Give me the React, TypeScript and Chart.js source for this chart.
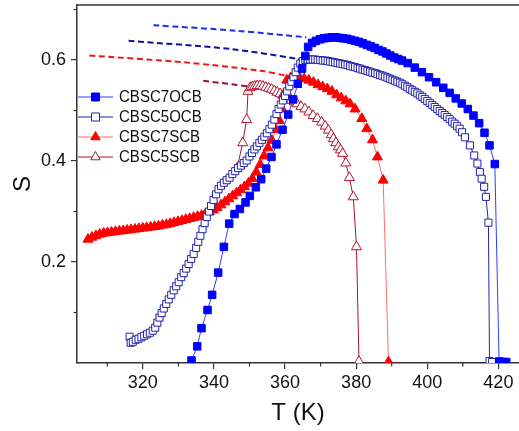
import React, { useEffect, useRef } from 'react';
import { Chart, registerables } from 'chart.js';

Chart.register(...registerables);

const FONT = "'Liberation Sans', Arial, Helvetica, sans-serif";

const seriesNames = ['CBSC7OCB', 'CBSC5OCB', 'CBSC7SCB', 'CBSC5SCB'];
const xTickLabels = [320, 340, 360, 380, 400, 420];
const yTickLabels = [0.2, 0.4, 0.6];

// CBSC7OCB (filled squares)
const t7OCB = [333.7, 335.3, 336.5, 338.2, 339.5, 341.2, 342.8, 344.3, 345.8, 347.3,
  348.9, 350.1, 351.8, 353.3, 354.7, 356.2, 357.6, 359.3, 360.9, 362.3,
  363.6, 364.8, 365.7, 366.5, 367.6, 368.7, 369.8, 370.9, 372.0, 373.1,
  374.2, 375.3, 376.4, 377.5, 378.6, 379.7, 380.8, 381.9, 383.0, 384.1,
  385.2, 386.3, 387.4, 388.5, 389.6, 390.7, 391.8, 392.9, 394.5, 396.5,
  398.5, 400.5, 402.5, 404.5, 406.3, 408.0, 409.7, 411.4, 413.0, 414.6,
  416.1, 417.5, 419.0, 420.2, 421.2, 422.2];
const s7OCB = [0.005, 0.033, 0.069, 0.105, 0.135, 0.179, 0.230, 0.276, 0.295, 0.305,
  0.318, 0.331, 0.348, 0.364, 0.385, 0.408, 0.433, 0.462, 0.492, 0.522,
  0.553, 0.583, 0.608, 0.626, 0.634, 0.638, 0.641, 0.643, 0.644, 0.645,
  0.645, 0.644, 0.643, 0.642, 0.640, 0.638, 0.636, 0.633, 0.630, 0.627,
  0.624, 0.620, 0.617, 0.613, 0.609, 0.605, 0.602, 0.599, 0.594, 0.585,
  0.576, 0.566, 0.556, 0.545, 0.535, 0.524, 0.514, 0.503, 0.490, 0.475,
  0.456, 0.431, 0.394, 0.003, 0.002, 0.002];

// CBSC5OCB (open squares)
const t5OCB = [316.3, 316.6, 317.2, 318.0, 318.8, 319.6, 320.4, 321.2, 322.0, 322.8,
  323.5, 324.1, 324.7, 325.3, 325.9, 326.6, 327.3, 328.0, 328.7, 329.4,
  330.1, 330.8, 331.5, 332.2, 332.9, 333.6, 334.3, 335.0, 335.6, 336.2,
  336.8, 337.4, 338.0, 338.6, 339.2, 339.9, 340.6, 341.3, 342.0, 342.8,
  343.6, 344.4, 345.2, 346.0, 346.8, 347.6, 348.4, 349.2, 350.0, 350.7,
  351.4, 352.1, 352.8, 353.5, 354.2, 354.9, 355.6, 356.3, 357.0, 357.6,
  358.2, 358.8, 359.4, 360.0, 360.6, 361.2, 361.8, 362.4, 363.0, 363.6,
  364.3, 365.0,
  365.7, 366.4, 367.1, 367.8, 368.5, 369.2, 369.9, 370.6, 371.3, 372.0,
  372.7, 373.4, 374.1, 374.8, 375.5, 376.2, 376.9, 377.6, 378.3, 379.0,
  379.7, 380.4, 381.1, 381.8, 382.5, 383.2, 383.9, 384.6, 385.3, 386.0,
  386.7, 387.4, 388.1, 388.8, 389.5, 390.2, 390.9, 391.6, 392.3, 393.0,
  393.7, 394.4, 395.1, 395.8, 396.5, 397.2, 397.9, 398.6, 399.3, 400.0,
  400.7, 401.4, 402.1, 402.8, 403.5, 404.2, 404.9, 405.6, 406.3, 407.0,
  407.7, 408.4, 409.1, 409.8, 410.6, 412.0, 413.2, 414.1, 414.8, 415.3,
  416.0, 416.5, 417.2, 417.5, 418.2];
const s5OCB = [0.052, 0.040, 0.042, 0.046, 0.048, 0.051, 0.054, 0.057, 0.060, 0.064,
  0.070, 0.080, 0.090, 0.099, 0.108, 0.117, 0.126, 0.135, 0.144, 0.152,
  0.160, 0.170, 0.178, 0.187, 0.196, 0.206, 0.216, 0.228, 0.240, 0.252,
  0.265, 0.277, 0.289, 0.300, 0.311, 0.323, 0.334, 0.344, 0.351, 0.357,
  0.362, 0.367, 0.374, 0.380, 0.386, 0.391, 0.396, 0.401, 0.409, 0.416,
  0.423, 0.429, 0.436, 0.442, 0.448, 0.455, 0.463, 0.472, 0.482, 0.493,
  0.503, 0.512, 0.520, 0.529, 0.538, 0.548, 0.557, 0.566, 0.576, 0.585,
  0.593, 0.598,
  0.600, 0.601, 0.601, 0.601, 0.601, 0.600, 0.600, 0.599, 0.599, 0.598,
  0.597, 0.596, 0.595, 0.594, 0.593, 0.592, 0.591, 0.590, 0.588, 0.587,
  0.586, 0.584, 0.583, 0.581, 0.580, 0.578, 0.577, 0.575, 0.574, 0.572,
  0.570, 0.569, 0.567, 0.565, 0.563, 0.561, 0.559, 0.557, 0.555, 0.552,
  0.549, 0.546, 0.543, 0.540, 0.537, 0.534, 0.530, 0.527, 0.523, 0.519,
  0.515, 0.511, 0.507, 0.503, 0.499, 0.495, 0.491, 0.487, 0.483, 0.478,
  0.474, 0.469, 0.464, 0.457, 0.447, 0.431, 0.411, 0.395, 0.378, 0.365,
  0.349, 0.329, 0.278, 0.004, 0.002];

// CBSC7SCB (filled triangles)
const t7SCB = [304.6, 305.7, 306.8, 307.9, 309.0, 310.1, 311.2, 312.3, 313.4, 314.5,
  315.6, 316.7, 317.8, 318.9, 320.0, 321.1, 322.2, 323.3, 324.4, 325.5,
  326.6, 327.7, 328.8, 329.9, 331.0, 332.1, 333.2, 334.3, 335.4, 336.5,
  337.6, 338.7, 339.8, 340.9, 342.0, 343.1, 344.2, 345.3, 346.4, 347.5,
  348.6, 349.7, 350.8, 351.9, 353.0, 354.1, 355.2, 356.3, 357.4, 358.4,
  359.2, 359.9, 360.5, 361.6, 362.8, 364.1, 365.4, 366.7, 368.0, 369.3,
  370.6, 371.9, 373.2, 374.5, 375.8, 377.1, 378.3, 379.7, 381.6, 383.0,
  384.6, 386.0, 387.6, 389.1];
const s7SCB = [0.245, 0.249, 0.252, 0.255, 0.257, 0.258, 0.259, 0.260, 0.261, 0.262,
  0.263, 0.264, 0.265, 0.266, 0.267, 0.268, 0.269, 0.270, 0.271, 0.273,
  0.274, 0.276, 0.278, 0.280, 0.282, 0.284, 0.286, 0.288, 0.290, 0.292,
  0.295, 0.299, 0.303, 0.308, 0.313, 0.319, 0.325, 0.331, 0.337, 0.343,
  0.349, 0.356, 0.365, 0.378, 0.393, 0.410, 0.426, 0.441, 0.462, 0.480,
  0.503, 0.532, 0.560, 0.565, 0.566, 0.565, 0.563, 0.560, 0.556, 0.551,
  0.547, 0.543, 0.538, 0.531, 0.525, 0.519, 0.513, 0.503, 0.484, 0.464,
  0.442, 0.408, 0.362, 0.002];

// CBSC5SCB (open triangles)
const t5SCB = [346.5, 348.1, 349.2, 349.6, 350.2, 350.8, 351.5, 352.2, 353.0, 353.8,
  354.6, 355.4, 356.2, 357.0, 357.8, 358.6, 359.4, 360.2, 361.0, 361.8,
  362.6, 363.4, 364.5, 365.6, 366.7, 367.9, 369.1, 370.3, 371.3, 372.2,
  373.0, 373.6, 374.3, 375.0, 375.6, 376.2, 377.1, 378.1, 379.2, 380.1,
  380.8];
const s5SCB = [0.385, 0.436, 0.482, 0.538, 0.545, 0.547, 0.548, 0.549, 0.549, 0.548,
  0.546, 0.544, 0.542, 0.539, 0.536, 0.533, 0.530, 0.527, 0.524, 0.520,
  0.517, 0.513, 0.508, 0.503, 0.497, 0.490, 0.484, 0.477, 0.469, 0.461,
  0.452, 0.444, 0.436, 0.428, 0.422, 0.415, 0.396, 0.367, 0.329, 0.230,
  0.003];

// dashed extrapolation lines
const tFit7OCB = [323, 346.4, 366];
const sFit7OCB = [0.669, 0.658, 0.645];
const tFit5OCB = [316, 344.5, 364];
const sFit5OCB = [0.638, 0.622, 0.602];
const tFit7SCB = [305, 332.3, 353, 361];
const sFit7SCB = [0.609, 0.595, 0.579, 0.568];
const tFit5SCB = [337, 349.5];
const sFit5SCB = [0.559, 0.548];

function pts(xs: number[], ys: number[]) {
  const n = Math.min(xs.length, ys.length);
  const out: { x: number; y: number }[] = [];
  for (let i = 0; i < n; i++) out.push({ x: xs[i], y: ys[i] });
  return out;
}

const isMajor = (v: number, list: number[]) => list.some((t) => Math.abs(t - v) < 1e-6);

const styles = [
  { line: '#2a40ff', mark: '#0000ff', fill: '#0000ff', shape: 'rect' },
  { line: '#2323b0', mark: '#2323a8', fill: '#ffffff', shape: 'rect' },
  { line: '#ff6e6e', mark: '#ff0000', fill: '#ff0000', shape: 'triangle' },
  { line: '#a8142e', mark: '#b0162f', fill: '#ffffff', shape: 'triangle' },
];

function drawMarker(ctx: CanvasRenderingContext2D, shape: string, x: number, y: number, stroke: string, fill: string) {
  ctx.save();
  ctx.lineWidth = 1;
  ctx.strokeStyle = stroke;
  ctx.fillStyle = fill;
  ctx.beginPath();
  if (shape === 'rect') {
    const h = 4;
    ctx.rect(x - h, y - h, 2 * h, 2 * h);
  } else {
    const r = 5.5;
    ctx.moveTo(x, y - r);
    ctx.lineTo(x + r * 0.866, y + r * 0.5);
    ctx.lineTo(x - r * 0.866, y + r * 0.5);
    ctx.closePath();
  }
  ctx.fill();
  ctx.stroke();
  ctx.restore();
}

const decor = {
  id: 'decor',
  afterDraw(chart: any) {
    const { ctx, chartArea: a, scales } = chart;
    ctx.save();
    ctx.strokeStyle = '#333';
    ctx.lineWidth = 1.5;
    ctx.beginPath();
    ctx.moveTo(a.left, a.top);
    ctx.lineTo(a.right, a.top);
    ctx.stroke();
    // minor ticks
    ctx.lineWidth = 1.2;
    for (const t of scales.x.ticks) {
      if (isMajor(t.value, xTickLabels)) continue;
      const px = scales.x.getPixelForValue(t.value);
      if (px < a.left + 1 || px > a.right - 1) continue;
      ctx.beginPath();
      ctx.moveTo(px, a.bottom);
      ctx.lineTo(px, a.bottom + 3.5);
      ctx.stroke();
    }
    for (const t of scales.y.ticks) {
      if (isMajor(t.value, yTickLabels) || Math.abs(t.value) < 1e-6) continue;
      const py = scales.y.getPixelForValue(t.value);
      ctx.beginPath();
      ctx.moveTo(a.left, py);
      ctx.lineTo(a.left - 3.5, py);
      ctx.stroke();
    }
    ctx.restore();

    // legend
    ctx.save();
    const x0 = a.left + 1;
    const x1 = a.left + 36;
    const xm = a.left + 18.5;
    const xt = a.left + 42;
    const y0 = a.top + 92;
    const rowH = 20;
    ctx.font = `16px ${FONT}`;
    ctx.textBaseline = 'middle';
    ctx.fillStyle = '#111';
    seriesNames.forEach((name, i) => {
      const st = styles[i];
      const y = y0 + i * rowH;
      ctx.strokeStyle = st.line;
      ctx.lineWidth = 1.2;
      ctx.beginPath();
      ctx.moveTo(x0, y);
      ctx.lineTo(x1, y);
      ctx.stroke();
      drawMarker(ctx, st.shape, xm, y, st.mark, st.fill);
      ctx.save();
      ctx.translate(xt, y + 1);
      ctx.scale(0.94, 1);
      ctx.fillStyle = '#111';
      ctx.fillText(name, 0, 0);
      ctx.restore();
    });
    ctx.restore();
  },
};

export default function App() {
  const ref = useRef<HTMLCanvasElement | null>(null);

  useEffect(() => {
    if (!ref.current) return;
    const mk = (i: number, xs: number[], ys: number[], radius: number) => ({
      label: seriesNames[i],
      data: pts(xs, ys),
      showLine: true,
      borderColor: styles[i].line,
      borderWidth: 1,
      pointStyle: styles[i].shape,
      pointRadius: radius,
      pointBorderWidth: 1,
      pointBorderColor: styles[i].mark,
      pointBackgroundColor: styles[i].fill,
      tension: 0,
    });
    const dash = (xs: number[], ys: number[], color: string) => ({
      label: '',
      data: pts(xs, ys),
      showLine: true,
      borderColor: color,
      borderWidth: 2,
      borderDash: [6, 3.5],
      pointRadius: 0,
      tension: 0.3,
    });
    const chart = new Chart(ref.current, {
      type: 'scatter',
      data: {
        datasets: [
          mk(0, t7OCB, s7OCB, 5.3),
          mk(1, t5OCB, s5OCB, 5.0),
          mk(2, t7SCB, s7SCB, 5.8),
          mk(3, t5SCB, s5SCB, 5.8),
          dash(tFit7OCB, sFit7OCB, '#1a2ff0'),
          dash(tFit5OCB, sFit5OCB, '#10109a'),
          dash(tFit7SCB, sFit7SCB, '#f01515'),
          dash(tFit5SCB, sFit5SCB, '#a01030'),
        ] as any,
      },
      options: {
        animation: false,
        responsive: false,
        devicePixelRatio: 1,
        layout: { autoPadding: false, padding: { top: 5, right: 0, left: 0, bottom: 0 } },
        plugins: { legend: { display: false }, tooltip: { enabled: false } },
        scales: {
          x: {
            type: 'linear',
            min: 301.5,
            max: 425.8,
            afterFit: (s: any) => {
              s.height = 68;
              s.paddingLeft = 0;
              s.paddingRight = 0;
              s.paddingTop = 0;
              s.paddingBottom = 0;
            },
            border: { display: true, color: '#333', width: 1.5 },
            grid: {
              display: true,
              drawOnChartArea: false,
              drawTicks: true,
              tickLength: 6,
              lineWidth: 1.2,
              color: (c: any) => (c.tick && isMajor(c.tick.value, xTickLabels) ? '#333' : 'rgba(0,0,0,0)'),
            },
            ticks: {
              stepSize: 10,
              includeBounds: false,
              autoSkip: false,
              maxRotation: 0,
              padding: 3,
              color: '#111',
              font: { family: FONT, size: 18 },
              callback: (v: any) => (isMajor(Number(v), xTickLabels) ? String(Math.round(Number(v))) : ''),
            },
            title: {
              display: true,
              text: 'T (K)',
              color: '#111',
              font: { family: FONT, size: 24 },
              padding: { top: 0, bottom: 3 },
            },
          },
          y: {
            type: 'linear',
            min: 0,
            max: 0.709,
            afterFit: (s: any) => {
              s.width = 77;
              s.paddingLeft = 0;
              s.paddingRight = 0;
              s.paddingTop = 0;
              s.paddingBottom = 0;
            },
            border: { display: true, color: '#333', width: 1.5 },
            grid: {
              display: true,
              drawOnChartArea: false,
              drawTicks: true,
              tickLength: 6,
              lineWidth: 1.2,
              color: (c: any) => (c.tick && isMajor(c.tick.value, yTickLabels) ? '#333' : 'rgba(0,0,0,0)'),
            },
            ticks: {
              stepSize: 0.1,
              includeBounds: false,
              autoSkip: false,
              padding: 5,
              color: '#111',
              font: { family: FONT, size: 18 },
              callback: (v: any) => (isMajor(Number(v), yTickLabels) ? Number(v).toFixed(1) : ''),
            },
            title: {
              display: true,
              text: 'S',
              color: '#111',
              font: { family: FONT, size: 24 },
              padding: { top: 9, bottom: 0 },
            },
          },
        },
      } as any,
      plugins: [decor],
    });
    return () => chart.destroy();
  }, []);

  return (
    <div style={{ position: 'absolute', left: 0, top: 0, width: 519, height: 431, background: '#fff' }}>
      <canvas ref={ref} width={519} height={431} style={{ display: 'block', width: 519, height: 431 }} />
    </div>
  );
}
